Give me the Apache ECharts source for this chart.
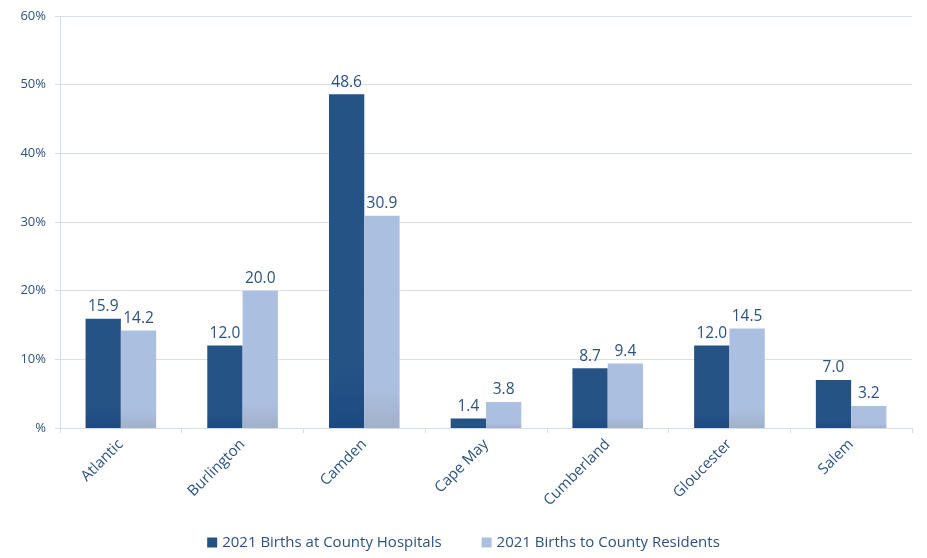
<!DOCTYPE html>
<html><head><meta charset="utf-8">
<script src="https://cdn.jsdelivr.net/npm/echarts@6/dist/echarts.min.js"></script>
<style>html,body{margin:0;padding:0;background:#fff}#c{width:927px;height:558px}</style>
</head><body><div id="c"></div>
<script>
var categories = ['Atlantic','Burlington','Camden','Cape May','Cumberland','Gloucester','Salem'];
var hospitals = [15.9, 12.0, 48.6, 1.4, 8.7, 12.0, 7.0];
var residents = [14.2, 20.0, 30.9, 3.8, 9.4, 14.5, 3.2];
var seriesNames = ['2021 Births at County Hospitals','2021 Births to County Residents'];
var yTicks = [0,10,20,30,40,50,60];

var txt = '#2b5283';
var font = '"Open Sans", "Noto Sans", sans-serif';
function grad(top, bottom){
  return new echarts.graphic.LinearGradient(0,0,0,1,[{offset:0,color:top},{offset:0.82,color:top},{offset:1,color:bottom}]);
}
var chart = echarts.init(document.getElementById('c'));
chart.setOption({
  animation:false,
  textStyle:{fontFamily:font},
  grid:{left:60,right:15,top:16,bottom:130},
  legend:{bottom:3,left:'center',itemWidth:10,itemHeight:10,itemGap:40,icon:'rect',
    textStyle:{color:txt,fontSize:15,fontFamily:font},
    data:[{name:seriesNames[0],itemStyle:{color:'#255285'}},{name:seriesNames[1],itemStyle:{color:'#aabfe1'}}]},
  xAxis:{type:'category',data:categories,
    axisLine:{lineStyle:{color:'#d5dcea'}},
    axisTick:{show:true,lineStyle:{color:'#d5dcea'},length:5},
    axisLabel:{rotate:45,color:txt,fontSize:15,fontFamily:font,margin:14}},
  yAxis:{type:'value',min:0,max:60,interval:10,
    axisLine:{show:true,lineStyle:{color:'#d5dcea'}},
    axisTick:{show:true,lineStyle:{color:'#d5dcea'},length:5},
    splitLine:{lineStyle:{color:'#d9e0ec'}},
    axisLabel:{color:txt,fontSize:13,fontFamily:font,margin:14,
      formatter:function(v){return v===0?'%':v+'%';}}},
  series:[
    {name:seriesNames[0],type:'bar',data:hospitals,barGap:'0%',barCategoryGap:'42%',
      itemStyle:{color:grad('#265386','#1b4a82')},
      label:{show:true,position:'top',color:txt,fontSize:15.5,fontFamily:font,distance:4,formatter:function(p){return p.value.toFixed(1);}}},
    {name:seriesNames[1],type:'bar',data:residents,
      itemStyle:{color:grad('#abbfe1','#a2b0c9')},
      label:{show:true,position:'top',color:txt,fontSize:15.5,fontFamily:font,distance:4,formatter:function(p){return p.value.toFixed(1);}}}
  ]
});
</script></body></html>
